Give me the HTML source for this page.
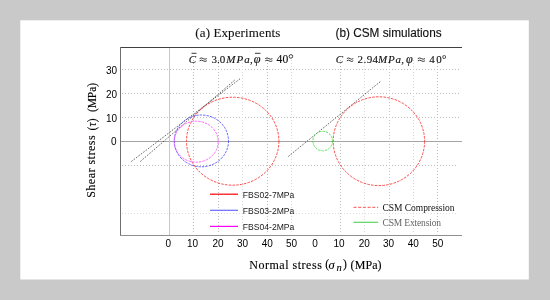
<!DOCTYPE html>
<html><head><meta charset="utf-8">
<style>
html,body{margin:0;padding:0;width:550px;height:300px;overflow:hidden;background:#c9c9c9;}
#wrap{position:absolute;left:0;top:0;width:550px;height:300px;will-change:transform;}
svg{position:absolute;left:0;top:0;display:block;}
.sans{font-family:"Liberation Sans",sans-serif;}
.serif{font-family:"Liberation Serif",serif;}
</style></head>
<body><div id="wrap">
<svg width="550" height="300" viewBox="0 0 550 300">
  <rect x="20.3" y="20.3" width="508.5" height="259.2" fill="#ffffff"/>

  <!-- titles -->
  <text class="serif" x="195.3" y="36.9" font-size="13" fill="#111" stroke="#111" stroke-width="0.1" textLength="85" lengthAdjust="spacing">(a) Experiments</text>
  <text class="sans" x="335.6" y="36.8" font-size="12.5" fill="#111" stroke="#111" stroke-width="0.15" textLength="106" lengthAdjust="spacingAndGlyphs">(b) CSM simulations</text>

  <!-- grid: horizontal dotted -->
  <g stroke-width="1" stroke-dasharray="1 2" fill="none">
    <line x1="122" y1="69.5" x2="460" y2="69.5" stroke="#bababa"/>
    <line x1="122" y1="93.5" x2="460" y2="93.5" stroke="#bababa"/>
    <line x1="122" y1="117.5" x2="460" y2="117.5" stroke="#bababa"/>
    <line x1="122" y1="165.5" x2="458" y2="165.5" stroke="#bababa"/>
    <line x1="122" y1="213.5" x2="458" y2="213.5" stroke="#dcdcdc"/>
    <line x1="193.5" y1="60" x2="193.5" y2="234" stroke="#b8b8b8"/>
    <line x1="218.5" y1="60" x2="218.5" y2="234" stroke="#b8b8b8"/>
    <line x1="242.5" y1="60" x2="242.5" y2="234" stroke="#dadada"/>
    <line x1="267.5" y1="60" x2="267.5" y2="234" stroke="#b8b8b8"/>
    <line x1="291.5" y1="60" x2="291.5" y2="234" stroke="#dadada"/>
    <line x1="340.5" y1="60" x2="340.5" y2="234" stroke="#c0c0c0"/>
    <line x1="364.5" y1="60" x2="364.5" y2="234" stroke="#dcdcdc"/>
    <line x1="389.5" y1="60" x2="389.5" y2="234" stroke="#c4c4c4"/>
    <line x1="413.5" y1="60" x2="413.5" y2="234" stroke="#d4d4d4"/>
    <line x1="437.5" y1="60" x2="437.5" y2="234" stroke="#b8b8b8"/>
  </g>

  <!-- zero axes -->
  <line x1="121" y1="141.5" x2="462" y2="141.5" stroke="#a4a4a4" stroke-width="1"/>
  <line x1="169.5" y1="48" x2="169.5" y2="235" stroke="#c8c8c8" stroke-width="1"/>

  <!-- box -->
  <line x1="120" y1="47.5" x2="462" y2="47.5" stroke="#404040" stroke-width="1"/>
  <line x1="120.5" y1="47" x2="120.5" y2="236" stroke="#707070" stroke-width="1"/>
  <line x1="120" y1="235.5" x2="462" y2="235.5" stroke="#909090" stroke-width="1"/>

  <!-- equations -->
  <g class="serif" font-size="11" fill="#111" stroke="#111" stroke-width="0.12">
    <text x="188.7" y="62.7" font-style="italic">C</text>
    <line x1="191.5" y1="53.3" x2="196.5" y2="53.3" stroke="#222" stroke-width="0.9"/>
    <path d="M199.6 58.6 q1.8 -1.3 3.6 0 t3.6 0 M199.6 60.8 q1.8 -1.3 3.6 0 t3.6 0" stroke="#222" stroke-width="0.9" fill="none"/>
    <text x="211.4" y="62.7">3.0</text>
    <text x="226.3" y="62.7" font-style="italic" textLength="23.5" lengthAdjust="spacing">MPa</text>
    <text x="250" y="62.7">,</text>
    <text x="253.8" y="62.7" font-size="12.3" font-style="italic">φ</text>
    <line x1="255" y1="53.3" x2="260.5" y2="53.3" stroke="#222" stroke-width="0.9"/>
    <path d="M265.2 58.6 q1.8 -1.3 3.6 0 t3.6 0 M265.2 60.8 q1.8 -1.3 3.6 0 t3.6 0" stroke="#222" stroke-width="0.9" fill="none"/>
    <text x="276.4" y="62.9" font-size="11.6" textLength="12" lengthAdjust="spacing">40</text>
    <ellipse cx="290.9" cy="56.4" rx="1.8" ry="1.8" fill="none" stroke="#111" stroke-width="0.8"/>

    <text x="335.8" y="62.7" font-style="italic">C</text>
    <path d="M346.9 58.6 q1.6 -1.3 3.2 0 t3.2 0 M346.9 60.8 q1.6 -1.3 3.2 0 t3.2 0" stroke="#222" stroke-width="0.9" fill="none"/>
    <text x="357.6" y="62.7" textLength="20.5" lengthAdjust="spacing">2.94</text>
    <text x="378" y="62.7" font-style="italic" textLength="23" lengthAdjust="spacing">MPa</text>
    <text x="401.3" y="62.7">,</text>
    <text x="405.9" y="62.7" font-size="12.3" font-style="italic">φ</text>
    <path d="M417.8 58.6 q1.8 -1.3 3.6 0 t3.6 0 M417.8 60.8 q1.8 -1.3 3.6 0 t3.6 0" stroke="#222" stroke-width="0.9" fill="none"/>
    <text x="429.2" y="62.7" textLength="12.6" lengthAdjust="spacing">40</text>
    <text x="442" y="62.7" font-size="11">°</text>
  </g>

  <!-- y tick labels -->
  <g class="sans" font-size="10" fill="#000" text-anchor="end">
    <text x="117" y="73.6">30</text>
    <text x="117" y="97.6">20</text>
    <text x="117" y="121.6">10</text>
    <text x="116.5" y="145.4">0</text>
  </g>
  <!-- x tick labels -->
  <g class="sans" font-size="10" fill="#000" text-anchor="middle">
    <text x="168.2" y="246.5">0</text>
    <text x="192.5" y="246.5">10</text>
    <text x="218" y="246.5">20</text>
    <text x="242.5" y="246.5">30</text>
    <text x="267.3" y="246.5">40</text>
    <text x="291.6" y="246.5">50</text>
    <text x="315.1" y="246.5">0</text>
    <text x="339" y="246.5">10</text>
    <text x="364.3" y="246.5">20</text>
    <text x="388.5" y="246.5">30</text>
    <text x="413.2" y="246.5">40</text>
    <text x="437.8" y="246.5">50</text>
  </g>

  <!-- axis labels -->
  <g class="serif" font-size="12" fill="#000" stroke="#000" stroke-width="0.12">
    <text x="249.3" y="268.5" textLength="72.5" lengthAdjust="spacing">Normal stress</text>
    <text x="325.3" y="268.3" font-size="11.5">(</text>
    <text x="328.6" y="268.5" font-size="12.5" font-style="italic">σ</text>
    <text x="336.4" y="271" font-size="10.5" font-style="italic">n</text>
    <text x="343" y="268.3" font-size="11.5">)</text>
    <text x="350.6" y="268.5" font-size="12" textLength="31" lengthAdjust="spacing">(MPa)</text>
  </g>
  <g fill="#000" stroke="#000" stroke-width="0.12">
    <text class="serif" transform="translate(95.3,197.8) rotate(-90)" font-size="12" textLength="62.5" lengthAdjust="spacing">Shear stress</text>
    <text class="serif" transform="translate(95.5,130.4) rotate(-90)" font-size="11.5" textLength="12" lengthAdjust="spacing">(<tspan font-style="italic">τ</tspan>)</text>
    <text class="serif" transform="translate(95.5,112) rotate(-90)" font-size="11.5" textLength="29" lengthAdjust="spacing">(MPa)</text>
  </g>

  <!-- envelope lines -->
  <g stroke="#222" stroke-width="0.7" stroke-dasharray="1.6 1.4" fill="none">
    <line x1="131.3" y1="161.5" x2="240.4" y2="78.5"/>
    <line x1="140.3" y1="161.5" x2="235.6" y2="79.3"/>
    <line x1="288.3" y1="156.5" x2="380.8" y2="81.2"/>
  </g>

  <!-- circles -->
  <g fill="none" stroke-width="0.8">
    <ellipse cx="232.7" cy="141.2" rx="46.2" ry="44" stroke="#ff2020" stroke-dasharray="2.6 1.2"/>
    <ellipse cx="201.4" cy="140.9" rx="27.1" ry="25.9" stroke="#3c3cff" stroke-dasharray="2.4 1.1"/>
    <ellipse cx="196.2" cy="141.7" rx="22" ry="20.5" stroke="#ff40ff" stroke-dasharray="2.4 1.1"/>
    <ellipse cx="378.9" cy="141.2" rx="45.7" ry="44.4" stroke="#ff2020" stroke-dasharray="2.6 1.2"/>
    <ellipse cx="322.7" cy="141.05" rx="9.8" ry="9.75" stroke="#30dd30" stroke-dasharray="2.4 1.1"/>
  </g>

  <!-- legends -->
  <g stroke-width="1.2">
    <line x1="210" y1="194.2" x2="238" y2="194.2" stroke="#ff0000"/>
    <line x1="210" y1="210.3" x2="238" y2="210.3" stroke="#6a6aff"/>
    <line x1="210" y1="226.4" x2="238" y2="226.4" stroke="#ff00ff"/>
    <line x1="353.5" y1="207.4" x2="378.2" y2="207.4" stroke="#ff7070" stroke-dasharray="3 1.7"/>
    <line x1="353.5" y1="222.3" x2="378.2" y2="222.3" stroke="#5fd35f"/>
  </g>
  <g class="serif" font-size="9.5" fill="#333">
    <text class="sans" x="242.8" y="198.2" font-size="9.3" fill="#1a1a1a" textLength="51.5" lengthAdjust="spacingAndGlyphs">FBS02-7MPa</text>
    <text class="sans" x="242.8" y="214.3" font-size="9.3" fill="#1a1a1a" textLength="51.5" lengthAdjust="spacingAndGlyphs">FBS03-2MPa</text>
    <text class="sans" x="242.8" y="230.4" font-size="9.3" fill="#1a1a1a" textLength="51.5" lengthAdjust="spacingAndGlyphs">FBS04-2MPa</text>
    <text x="382.5" y="211.3" textLength="72" lengthAdjust="spacing" fill="#111">CSM Compression</text>
    <text x="382.5" y="226.2" textLength="58.5" lengthAdjust="spacing" fill="#666">CSM Extension</text>
  </g>
</svg>
</div></body></html>
